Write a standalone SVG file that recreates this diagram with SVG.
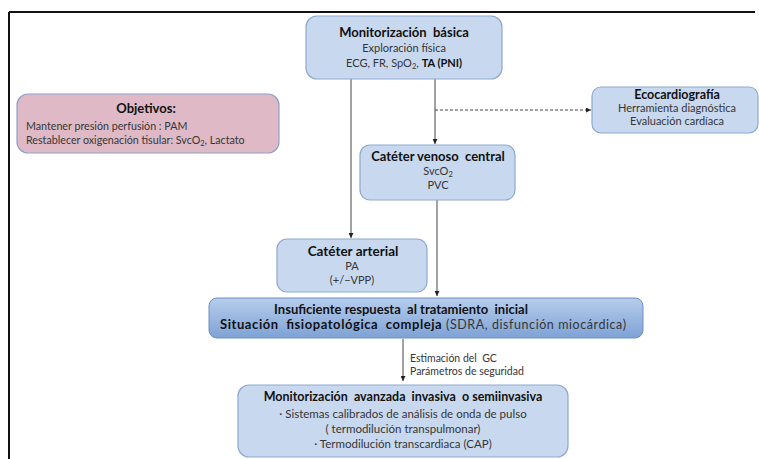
<svg xmlns="http://www.w3.org/2000/svg" width="759" height="459" viewBox="0 0 759 459">
<defs>
<style>
.box{fill:#c8d8ee;stroke:#8da9d0;stroke-width:1.2}
.pink{fill:#dfbac6;stroke:#8da2c8;stroke-width:1.2}
.t{font-family:Lato,"Liberation Sans",sans-serif;font-size:11px;fill:#363636;white-space:pre}
.b{font-weight:bold;fill:#111}
.h{font-size:13px}
.c{text-anchor:middle}
.ln{stroke:#444;stroke-width:1;fill:none}
.sub{font-size:7.5px}
</style>
<linearGradient id="g" x1="0" y1="0" x2="0" y2="1">
<stop offset="0" stop-color="#b7cdec"/>
<stop offset="1" stop-color="#7ea2d6"/>
</linearGradient>
<marker id="ah" viewBox="0 0 10 10" refX="10" refY="5" markerWidth="5" markerHeight="5" orient="auto" markerUnits="userSpaceOnUse">
<path d="M0,0 L10,5 L0,10 z" fill="#222"/>
</marker>
</defs>
<rect width="759" height="459" fill="#fff"/>
<g id="frame" stroke="#111" stroke-width="2">
<line x1="9" y1="12" x2="755" y2="12"/>
<line x1="9" y1="12" x2="9" y2="459"/>
</g>
<g id="connectors">
<line class="ln" x1="351" y1="79" x2="351" y2="238" marker-end="url(#ah)"/>
<line class="ln" x1="435" y1="79" x2="435" y2="144" marker-end="url(#ah)"/>
<line class="ln" x1="435" y1="110" x2="591" y2="110" stroke-dasharray="3,2" marker-end="url(#ah)"/>
<line class="ln" x1="437" y1="200" x2="437" y2="296" marker-end="url(#ah)"/>
<line class="ln" x1="403" y1="339" x2="403" y2="381" marker-end="url(#ah)"/>
</g>
<g id="basica">
<rect class="box" x="306" y="16" width="196" height="63" rx="11"/>
<text class="t b c h" x="404" y="37" xml:space="preserve">Monitorización  básica</text>
<text class="t c" x="404" y="52">Exploración física</text>
<text class="t c" x="404" y="67">ECG, FR, SpO<tspan class="sub" dy="2">2</tspan><tspan dy="-2">, </tspan><tspan class="b">TA (PNI)</tspan></text>
</g>
<g id="objetivos">
<rect class="pink" x="17" y="94" width="262" height="59" rx="11"/>
<text class="t b c h" x="146" y="113">Objetivos:</text>
<text class="t" x="26" y="130" style="font-size:10.7px">Mantener presión perfusión : PAM</text>
<text class="t" x="26" y="144" style="font-size:10.7px">Restablecer oxigenación tisular: SvcO<tspan class="sub" dy="2">2</tspan><tspan dy="-2">, Lactato</tspan></text>
</g>
<g id="eco">
<rect class="box" x="592" y="87" width="166" height="46" rx="9"/>
<text class="t b c" x="677" y="99" style="font-size:12.5px">Ecocardiografía</text>
<text class="t c" x="677" y="112">Herramienta diagnóstica</text>
<text class="t c" x="677" y="125">Evaluación cardíaca</text>
</g>
<g id="venoso">
<rect class="box" x="360" y="145" width="155" height="55" rx="10"/>
<text class="t b c h" x="438" y="161" xml:space="preserve">Catéter venoso  central</text>
<text class="t c" x="438" y="175">SvcO<tspan class="sub" dy="2">2</tspan></text>
<text class="t c" x="438" y="189">PVC</text>
</g>
<g id="arterial">
<rect class="box" x="277" y="239" width="150" height="53" rx="10"/>
<text class="t b c" x="353" y="256" style="font-size:13.5px">Catéter arterial</text>
<text class="t c" x="352" y="270">PA</text>
<text class="t c" x="352" y="284">(+/−VPP)</text>
</g>
<g id="insuficiente">
<rect x="209" y="298" width="434" height="40" rx="8" fill="url(#g)" stroke="#6f8fc2" stroke-width="1"/>
<text class="t b c h" x="401" y="314" xml:space="preserve">Insuficiente respuesta  al tratamiento  inicial</text>
<text class="t" x="220" y="329" style="font-size:12.5px" textLength="406" lengthAdjust="spacing" xml:space="preserve"><tspan class="b h">Situación  fisiopatológica  compleja</tspan> (SDRA, disfunción miocárdica)</text>
</g>
<g id="estimacion">
<text class="t" x="410" y="362" style="font-size:10.5px" xml:space="preserve">Estimación del  GC</text>
<text class="t" x="410" y="375" style="font-size:10.5px">Parámetros de seguridad</text>
</g>
<g id="avanzada">
<rect class="box" x="238" y="385" width="330" height="72" rx="11"/>
<text class="t b c" x="403" y="401" style="font-size:12.5px" xml:space="preserve">Monitorización  avanzada  invasiva  o semiinvasiva</text>
<text class="t c" x="403" y="418" style="font-size:11.5px">· Sistemas calibrados de análisis de onda de pulso</text>
<text class="t c" x="403" y="433" style="font-size:11.5px">( termodilución transpulmonar)</text>
<text class="t c" x="403" y="448" style="font-size:11.5px">· Termodilución transcardiaca (CAP)</text>
</g>
</svg>
